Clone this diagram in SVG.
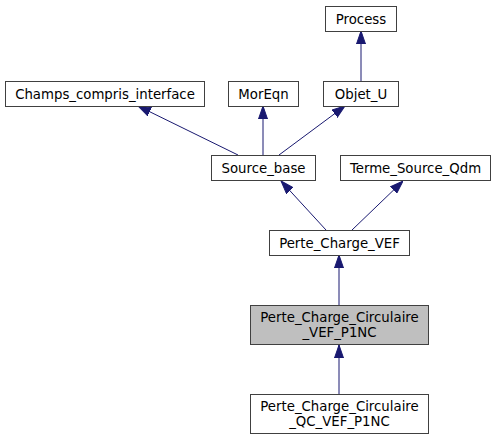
<svg xmlns="http://www.w3.org/2000/svg" width="496" height="440" viewBox="0 0 496 440">
<style>
.n rect{fill:#fff;stroke:#404040;stroke-width:1}
.n text{font-family:"DejaVu Sans",sans-serif;font-size:13.3px;text-anchor:middle;fill:#000}
.e path{fill:none;stroke:#191970;stroke-width:1}
</style>
<defs>
<marker id="a" viewBox="0 0 13 10" refX="13" refY="5" markerWidth="13" markerHeight="10" markerUnits="userSpaceOnUse" orient="auto">
<path d="M0,0.5 L13,5 L0,9.5 Z" fill="#191970" stroke="#191970"/>
</marker>
</defs>
<rect width="496" height="440" fill="#fff"/>
<g class="e">
<path d="M361,81 L361,31" marker-end="url(#a)"/>
<path d="M238,155 L138,106" marker-end="url(#a)"/>
<path d="M263,155 L263,106" marker-end="url(#a)"/>
<path d="M279,155 L345,106" marker-end="url(#a)"/>
<path d="M326,230 L281,181" marker-end="url(#a)"/>
<path d="M352,230 L403,181" marker-end="url(#a)"/>
<path d="M339,305 L339,255" marker-end="url(#a)"/>
<path d="M339,394 L339,345" marker-end="url(#a)"/>
</g>
<g id="Process" class="n"><rect x="325.5" y="6.5" width="71" height="25"/><text x="361" y="23.5">Process</text></g>
<g id="Champs_compris_interface" class="n"><rect x="5.5" y="81.5" width="199" height="25"/><text x="105" y="98.5">Champs_compris_interface</text></g>
<g id="MorEqn" class="n"><rect x="228.5" y="81.5" width="70" height="25"/><text x="263.5" y="98.5">MorEqn</text></g>
<g id="Objet_U" class="n"><rect x="323.5" y="81.5" width="75" height="25"/><text x="361" y="98.5">Objet_U</text></g>
<g id="Source_base" class="n"><rect x="211.5" y="155.5" width="104" height="25"/><text x="263.5" y="172.5">Source_base</text></g>
<g id="Terme_Source_Qdm" class="n"><rect x="340.5" y="155.5" width="150" height="25"/><text x="415.5" y="172.5">Terme_Source_Qdm</text></g>
<g id="Perte_Charge_VEF" class="n"><rect x="269.5" y="230.5" width="140" height="25"/><text x="339.5" y="247.5">Perte_Charge_VEF</text></g>
<g id="Perte_Charge_Circulaire_VEF_P1NC" class="n"><rect x="250.5" y="305.5" width="178" height="39" style="fill:#bfbfbf"/><text x="339.5" y="321.5">Perte_Charge_Circulaire</text><text x="339.5" y="336.5">_VEF_P1NC</text></g>
<g id="Perte_Charge_Circulaire_QC_VEF_P1NC" class="n"><rect x="250.5" y="394.5" width="178" height="39"/><text x="339.5" y="410.5">Perte_Charge_Circulaire</text><text x="339.5" y="425.5">_QC_VEF_P1NC</text></g>
</svg>
